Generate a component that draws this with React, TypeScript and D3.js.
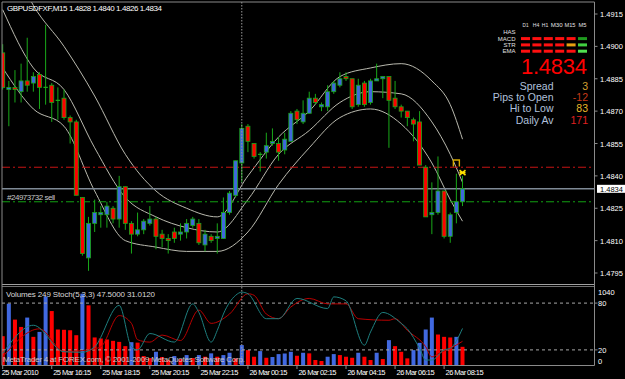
import React from "react";
import * as d3 from "d3";

// GBPUSD M15 candles, bar 0 = 25 Mar 14:15, bar 75 = 26 Mar 09:00
const opens = [
  1.4897, 1.4880, 1.4881, 1.4879, 1.4884, 1.4883, 1.4887, 1.4881, 1.4882, 1.4875,
  1.4876, 1.4867, 1.4865, 1.4830, 1.4802, 1.4818, 1.4822, 1.4822, 1.4825, 1.4820,
  1.4835, 1.4818, 1.4813, 1.4815, 1.4818, 1.4820, 1.4813, 1.4811, 1.4814, 1.4813,
  1.4814, 1.4817, 1.4818, 1.4808, 1.4812, 1.4811, 1.4811, 1.4823, 1.4831, 1.4846,
  1.4863, 1.4855, 1.4850, 1.4851, 1.4855, 1.4855, 1.4852, 1.4856, 1.4870, 1.4865,
  1.4869, 1.4876, 1.4872, 1.4872, 1.4879, 1.4882, 1.4886, 1.4885, 1.4873, 1.4883,
  1.4874, 1.4884, 1.4885, 1.4886, 1.4876, 1.4872, 1.4870, 1.4866, 1.4865, 1.4844,
  1.4822, 1.4823, 1.4833, 1.4812, 1.4823, 1.4828,
];
const highs = [
  1.4901, 1.4884, 1.4889, 1.4892, 1.4904, 1.4888, 1.4888, 1.4910, 1.4883, 1.4881,
  1.4880, 1.4868, 1.4866, 1.4830, 1.4821, 1.4829, 1.4826, 1.4828, 1.4826, 1.4840,
  1.4835, 1.4819, 1.4823, 1.4820, 1.4826, 1.4821, 1.4815, 1.4813, 1.4816, 1.4818,
  1.4820, 1.4821, 1.4820, 1.4815, 1.4813, 1.4818, 1.4830, 1.4833, 1.4847, 1.4864,
  1.4864, 1.4855, 1.4851, 1.4860, 1.4862, 1.4858, 1.4860, 1.4870, 1.4871, 1.4875,
  1.4879, 1.4878, 1.4874, 1.4882, 1.4884, 1.4888, 1.4888, 1.4885, 1.4885, 1.4884,
  1.4885, 1.4892, 1.4886, 1.4886, 1.4884, 1.4873, 1.4870, 1.4867, 1.4870, 1.4845,
  1.4837, 1.4849, 1.4833, 1.4823, 1.4841, 1.4840,
];
const lows = [
  1.4880, 1.4863, 1.4874, 1.4874, 1.4879, 1.4879, 1.4871, 1.4873, 1.4865, 1.4866,
  1.4866, 1.4855, 1.4831, 1.4803, 1.4796, 1.4814, 1.4816, 1.4816, 1.4818, 1.4816,
  1.4815, 1.4804, 1.4812, 1.4813, 1.4817, 1.4806, 1.4807, 1.4804, 1.4809, 1.4810,
  1.4811, 1.4816, 1.4808, 1.4805, 1.4809, 1.4804, 1.4811, 1.4822, 1.4830, 1.4837,
  1.4851, 1.4848, 1.4842, 1.4848, 1.4854, 1.4847, 1.4850, 1.4856, 1.4864, 1.4864,
  1.4869, 1.4873, 1.4870, 1.4870, 1.4878, 1.4881, 1.4884, 1.4871, 1.4872, 1.4872,
  1.4873, 1.4884, 1.4876, 1.4853, 1.4871, 1.4867, 1.4863, 1.4856, 1.4845, 1.4821,
  1.4813, 1.4822, 1.4811, 1.4809, 1.4818, 1.4826,
];
const closes = [
  1.4881, 1.4881, 1.4880, 1.4884, 1.4882, 1.4886, 1.4881, 1.4881, 1.4874, 1.4875,
  1.4867, 1.4865, 1.4831, 1.4804, 1.4818, 1.4823, 1.4823, 1.4826, 1.4820, 1.4835,
  1.4818, 1.4813, 1.4815, 1.4819, 1.4820, 1.4812, 1.4811, 1.4810, 1.4811, 1.4814,
  1.4818, 1.4820, 1.4809, 1.4813, 1.4810, 1.4812, 1.4823, 1.4832, 1.4847, 1.4862,
  1.4856, 1.4849, 1.4850, 1.4854, 1.4856, 1.4851, 1.4857, 1.4869, 1.4866, 1.4869,
  1.4876, 1.4874, 1.4873, 1.4879, 1.4883, 1.4885, 1.4885, 1.4872, 1.4882, 1.4873,
  1.4884, 1.4885, 1.4886, 1.4875, 1.4872, 1.4870, 1.4867, 1.4864, 1.4845, 1.4821,
  1.4823, 1.4833, 1.4812, 1.4822, 1.4828, 1.4834,
];
const volumes = [
  391, 824, 612, 514, 639, 382, 448, 921, 726, 480,
  476, 470, 404, 957, 802, 374, 360, 347, 329, 315,
  258, 311, 305, 126, 99, 183, 113, 73, 126, 86,
  139, 99, 139, 117, 162, 117, 139, 170, 95, 272,
  205, 117, 192, 103, 113, 152, 160, 183, 130, 170,
  162, 73, 60, 117, 152, 139, 117, 103, 170, 117,
  73, 170, 86, 338, 258, 183, 95, 205, 302, 480,
  639, 413, 382, 374, 382, 249,
];

// band lines, read at some bars
const bandBars = [0, 5, 10, 15, 20, 25, 30, 35, 40, 45, 50, 55, 60, 65, 70, 73, 75];
const bandUpper = [1.4949, 1.4919, 1.4900, 1.4877, 1.4850, 1.4833, 1.4825, 1.4821, 1.4840, 1.4858, 1.4870, 1.4886, 1.4890, 1.4892, 1.4884, 1.4873, 1.4857];
const bandMiddle = [1.4917, 1.4890, 1.4880, 1.4853, 1.4830, 1.4821, 1.4816, 1.4814, 1.4829, 1.4850, 1.4861, 1.4874, 1.4879, 1.4878, 1.4865, 1.4850, 1.4837];
const bandLower = [1.4890, 1.4871, 1.4863, 1.4833, 1.4810, 1.4807, 1.4805, 1.4805, 1.4814, 1.4836, 1.4853, 1.4867, 1.4871, 1.4864, 1.4846, 1.4829, 1.4819];

// stochastic, read at some bars
const stochMainBars = [0, 5, 10, 13, 15, 19, 21, 22, 24, 28, 31, 32, 34, 35, 36, 38, 39, 40, 43, 45, 48, 53, 54, 56, 59, 60, 62, 65, 66, 68, 69, 70, 72, 73, 75];
const stochMainVals = [15.5, 51.6, 17.6, 17, 24, 77, 24, 20, 41, 30, 79, 68, 30, 45, 66, 90, 94, 92, 60, 60, 86, 73, 88, 83, 26, 43, 68, 54, 47, 22, 7, 7, 20, 22, 47.5];
const stochSigBars = [0, 6, 10, 14, 16, 19, 21, 22, 24, 26, 29, 32, 34, 37, 40, 41, 43, 45, 47, 50, 53, 56, 58, 63, 64, 66, 69, 70, 71, 73, 75];
const stochSigVals = [11, 47, 18, 20, 24, 64, 54, 33, 30, 39, 32, 71, 54, 66, 92, 90, 66, 60, 75, 86, 79, 79, 60, 58, 60, 45, 24, 11, 15, 22, 31];

const priceTicks = [1.4915, 1.4900, 1.4885, 1.4870, 1.4855, 1.4840, 1.4825, 1.4810, 1.4795];
const timeTickBars = [0, 8, 16, 24, 32, 40, 48, 56, 64, 72];
const timeTickLabels = ["25 Mar 2010", "25 Mar 16:15", "25 Mar 18:15", "25 Mar 20:15", "25 Mar 22:15", "26 Mar 00:15", "26 Mar 02:15", "26 Mar 04:15", "26 Mar 06:15", "26 Mar 08:15"];
const daySeparatorBar = 39;

const bidPrice = 1.4834;
const orderPrice = 1.4828;
const stopPrice = 1.4844;
const orderLabel = "#24973732 sell";

const timeframes = ["D1", "H4", "H1", "M30", "M15", "M5"];
const signalRows = ["HAS", "MACD", "STR", "EMA"];
const signalColors = [
  [],
  ["#ff1010", "#ff1010", "#ff1010", "#ff1010", "#ff1010", "#1f9a1f"],
  ["#ff1010", "#ff1010", "#ff1010", "#ff1010", "#e8a010", "#40d040"],
  ["#ff1010", "#ff1010", "#ff1010", "#ff1010", "#ff1010", "#50e050"],
];
const infoLabels = ["Spread", "Pips to Open", "Hi to Low", "Daily Av"];
const infoValues = ["3", "-12", "83", "171"];
const infoColors = ["#d4a030", "#c83a18", "#e8b828", "#e02020"];

const FONT = "'Liberation Sans', Arial, sans-serif";
const WICK = "#19a819";
const BULL = "#3f68dc";
const BEAR = "#ff0000";
const FRAME = "#8a8a8a";

export default function App() {
  const x = d3.scaleLinear().domain([0, 75]).range([2.7, 462.5]);
  const y = d3.scaleLinear().domain([1.4795, 1.4915]).range([273, 14]);
  const ySub = d3.scaleLinear().domain([0, 100]).range([365.5, 287.5]);
  const yVol = d3.scaleLinear().domain([0, 1040]).range([365.5, 287.5]);

  const left = 2, right = 594.5, mainTop = 2, mainBottom = 284.5, subTop = 287, subBottom = 365.5;

  const bandLine = d3.line<number>()
    .x((d, i) => x(bandBars[i]))
    .y((d) => y(d))
    .curve(d3.curveMonotoneX);

  const stochLine = (bars: number[]) => d3.line<number>()
    .x((d, i) => x(bars[i]))
    .y((d) => ySub(d))
    .curve(d3.curveMonotoneX);

  const hLines = [
    { p: stopPrice, c: "#c81414", dash: "8,3,2,3", w: 1 },
    { p: orderPrice, c: "#12a012", dash: "8,3,2,3", w: 1 },
  ];

  // header label centres over the signal boxes
  const tfX = [525.5, 536, 545, 556.7, 570, 582.5];
  const tfW = [6, 6.5, 6.5, 12, 11, 8];

  return (
    <svg width={625} height={379} style={{ position: "absolute", left: 0, top: 0, background: "#000" }} fontFamily={FONT}>
      <defs>
        <clipPath id="mainClip"><rect x={left} y={mainTop} width={right - left} height={mainBottom - mainTop} /></clipPath>
        <clipPath id="subClip"><rect x={left} y={subTop} width={right - left} height={subBottom - subTop} /></clipPath>
      </defs>
      <rect x={0} y={0} width={625} height={379} fill="#000" />

      {/* main window */}
      <g clipPath="url(#mainClip)">
        {[bandUpper, bandMiddle, bandLower].map((b, k) => (
          <path key={k} d={bandLine(b) || ""} fill="none" stroke="#b9b9ae" strokeWidth={1} />
        ))}
        {hLines.map((h, k) => (
          <line key={k} x1={left} x2={right} y1={y(h.p)} y2={y(h.p)} stroke={h.c} strokeWidth={h.w} strokeDasharray={h.dash} />
        ))}
        <line x1={left} x2={right} y1={y(bidPrice)} y2={y(bidPrice)} stroke="#7f8a96" strokeWidth={1.5} />
        {opens.map((o, i) => {
          const c = closes[i];
          const cx = x(i);
          const top = y(Math.max(o, c));
          const bot = y(Math.min(o, c));
          return (
            <g key={i}>
              <line x1={cx} x2={cx} y1={y(highs[i])} y2={y(lows[i])} stroke={WICK} strokeWidth={1} />
              {o === c ? (
                <line x1={cx - 2.2} x2={cx + 2.2} y1={top} y2={top} stroke={WICK} strokeWidth={1.2} />
              ) : (
                <rect x={cx - 2} y={top} width={4} height={Math.max(1.5, bot - top)}
                  fill={c > o ? BULL : BEAR} stroke={WICK} strokeWidth={0.8} />
              )}
            </g>
          );
        })}
        <text x={7} y={200} fontSize={8} fill="#c8c8c8" textLength={48}>{orderLabel}</text>
        {/* trade arrows */}
        <path d={`M${x(74) - 3},${y(1.4846) + 3.5} V${y(1.4846) - 3} H${x(74) + 3} V${y(1.4846) + 3.5}`}
          fill="none" stroke="#d4a800" strokeWidth={1.4} />
        <g stroke="#ffe000" strokeWidth={1.6}>
          <line x1={x(75) - 3} x2={x(75) + 3} y1={y(1.48415) - 2.5} y2={y(1.48415) + 2.5} />
          <line x1={x(75) - 3} x2={x(75) + 3} y1={y(1.48415) + 2.5} y2={y(1.48415) - 2.5} />
          <line x1={x(75) - 3} x2={x(75) + 3} y1={y(1.48415)} y2={y(1.48415)} />
        </g>
      </g>

      {/* sub window: volumes + stochastic */}
      <g clipPath="url(#subClip)">
        {volumes.map((v, i) => (
          <rect key={i} x={x(i) - 2} y={yVol(v)} width={4} height={subBottom - yVol(v)}
            fill={i > 0 && v > volumes[i - 1] ? "#4169e1" : "#ff0000"} />
        ))}
        {[80, 20].map((lv) => (
          <line key={lv} x1={left} x2={right} y1={ySub(lv)} y2={ySub(lv)} stroke="#a8a8a8" strokeDasharray="3,3" strokeWidth={1} />
        ))}
        <path d={stochLine(stochSigBars)(stochSigVals) || ""} fill="none" stroke="#b80000" strokeWidth={1} />
        <path d={stochLine(stochMainBars)(stochMainVals) || ""} fill="none" stroke="#1e7f7f" strokeWidth={1} />
        <text x={6} y={297} fontSize={8} fill="#d8d8d8" textLength={149}>Volumes 249  Stoch(5,3,3) 47.5000 31.0120</text>
        <text x={3} y={361.5} fontSize={8} fill="#c8c8c8" textLength={242}>MetaTrader 4 at FOREX.com, © 2001-2009 MetaQuotes Software Corp.</text>
      </g>

      {/* day separator */}
      <line x1={x(daySeparatorBar)} x2={x(daySeparatorBar)} y1={mainTop} y2={subBottom} stroke="#9a9a9a" strokeDasharray="1.5,1.5" />

      {/* frames */}
      <line x1={left} x2={right} y1={mainTop} y2={mainTop} stroke={FRAME} />
      <line x1={left} x2={right} y1={mainBottom} y2={mainBottom} stroke="#a0a0a0" />
      <line x1={left} x2={right} y1={mainBottom + 2} y2={mainBottom + 2} stroke="#707070" />
      <line x1={left} x2={right} y1={subBottom} y2={subBottom} stroke={FRAME} />
      <line x1={left} x2={left} y1={mainTop} y2={subBottom} stroke={FRAME} />
      <line x1={right} x2={right} y1={mainTop} y2={subBottom} stroke={FRAME} />

      {/* price axis */}
      {priceTicks.map((p) => (
        <g key={p}>
          <line x1={right} x2={right + 3} y1={y(p)} y2={y(p)} stroke={FRAME} />
          <text x={600} y={y(p) + 3} fontSize={7.5} fill="#fff">{p.toFixed(4)}</text>
        </g>
      ))}
      <rect x={597} y={y(bidPrice) - 4} width={28} height={8} fill="#fff" />
      <text x={600} y={y(bidPrice) + 3} fontSize={7.5} fill="#000">{bidPrice.toFixed(4)}</text>

      {/* sub axis */}
      <text x={598} y={yVol(1040) + 7.5} fontSize={7.5} fill="#fff">1040</text>
      <text x={598} y={ySub(80) + 3} fontSize={7.5} fill="#fff">80</text>
      <text x={598} y={ySub(20) + 3} fontSize={7.5} fill="#fff">20</text>
      <text x={598} y={yVol(0) - 2} fontSize={7.5} fill="#fff">0</text>
      <line x1={right} x2={right + 3} y1={ySub(80)} y2={ySub(80)} stroke={FRAME} />
      <line x1={right} x2={right + 3} y1={ySub(20)} y2={ySub(20)} stroke={FRAME} />

      {/* time axis */}
      {timeTickBars.map((b, k) => (
        <g key={b}>
          <line x1={x(b)} x2={x(b)} y1={subBottom} y2={subBottom + 3.5} stroke={FRAME} />
          <text x={k === 0 ? x(b) - 1 : x(b) + 1.5} y={375} fontSize={7.5} fill="#fff" textLength={k === 0 ? 37 : 38}>{timeTickLabels[k]}</text>
        </g>
      ))}

      {/* symbol header */}
      <text x={7} y={10.5} fontSize={8} fill="#fff" textLength={155}>GBPUSDFXF,M15  1.4828 1.4840 1.4826 1.4834</text>

      {/* signal panel */}
      {timeframes.map((t, c) => (
        <text key={t} x={tfX[c]} y={27} fontSize={5.5} fill="#e0e0e0" textAnchor="middle"
          textLength={tfW[c]} lengthAdjust="spacingAndGlyphs">{t}</text>
      ))}
      {signalRows.map((r, k) => (
        <text key={r} x={515.5} y={34.3 + k * 6.2} fontSize={6} fill="#e0e0e0" textAnchor="end">{r}</text>
      ))}
      {signalColors.map((row, k) => row.map((col, c) => (
        <rect key={k + "-" + c} x={521 + c * 11.4} y={30.8 + k * 6.3} width={9} height={3} fill={col} />
      )))}
      <text x={587} y={73.5} fontSize={22} fill="#ff0000" textAnchor="end" textLength={66}>{bidPrice.toFixed(4)}</text>
      {infoLabels.map((l, k) => (
        <g key={l}>
          <text x={553.5} y={89.5 + k * 11.4} fontSize={10.5} fill="#b0c0dc" textAnchor="end">{l}</text>
          <text x={588} y={89.5 + k * 11.4} fontSize={10.5} fill={infoColors[k]} textAnchor="end">{infoValues[k]}</text>
        </g>
      ))}
    </svg>
  );
}
